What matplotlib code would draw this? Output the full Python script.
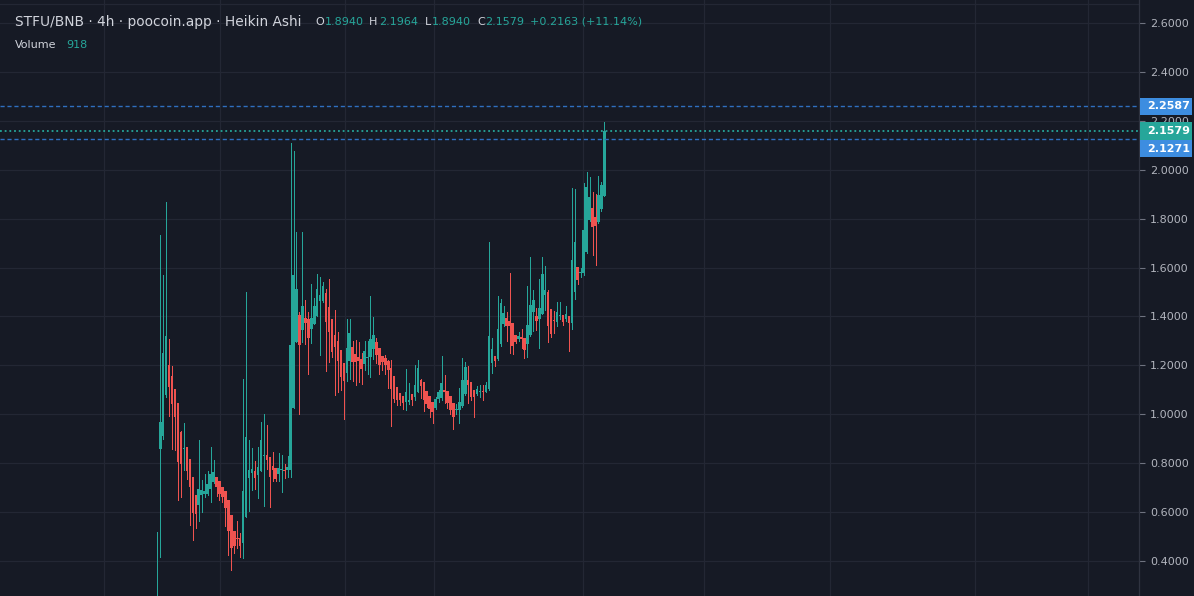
import matplotlib
matplotlib.use("Agg")
import matplotlib.pyplot as plt
import numpy as np
from matplotlib.patches import Rectangle
from matplotlib.transforms import IdentityTransform


# Heikin Ashi candles (4h), oldest first
OPENS = [
    0.150, 0.858, 0.911, 1.079, 1.201, 1.156, 1.103, 1.046, 0.927, 0.858,
    0.866, 0.817, 0.743, 0.670, 0.629, 0.670, 0.674, 0.674, 0.694, 0.723,
    0.743, 0.727, 0.702, 0.686, 0.649, 0.588, 0.522, 0.494, 0.494, 0.473,
    0.580, 0.739, 0.760, 0.768, 0.751, 0.768, 0.829, 0.833, 0.825, 0.788,
    0.780, 0.755, 0.772, 0.772, 0.772, 0.772, 1.025, 1.295, 1.406, 1.344,
    1.393, 1.389, 1.348, 1.369, 1.402, 1.463, 1.463, 1.496, 1.439, 1.389,
    1.324, 1.299, 1.263, 1.209, 1.169, 1.218, 1.275, 1.246, 1.234, 1.226,
    1.205, 1.230, 1.234, 1.267, 1.295, 1.271, 1.238, 1.230, 1.218, 1.189,
    1.156, 1.111, 1.087, 1.074, 1.050, 1.050, 1.083, 1.070, 1.091, 1.140,
    1.132, 1.095, 1.074, 1.050, 1.025, 1.062, 1.066, 1.099, 1.095, 1.074,
    1.046, 1.017, 1.017, 1.034, 1.083, 1.140, 1.132, 1.099, 1.083, 1.091,
    1.095, 1.091, 1.103, 1.209, 1.238, 1.226, 1.287, 1.369, 1.393, 1.381,
    1.373, 1.324, 1.308, 1.316, 1.312, 1.287, 1.324, 1.418, 1.402, 1.389,
    1.410, 1.488, 1.500, 1.430, 1.385, 1.377, 1.402, 1.406, 1.389, 1.402,
    1.373, 1.500, 1.602, 1.578, 1.578, 1.663, 1.794, 1.843, 1.807, 1.786,
    1.839, 1.8940,
]
HIGHS = [
    0.520, 1.733, 1.569, 1.868, 1.308, 1.197, 1.103, 1.046, 0.930, 0.964,
    0.866, 0.817, 0.743, 0.670, 0.894, 0.731, 0.755, 0.768, 0.866, 0.813,
    0.743, 0.727, 0.702, 0.686, 0.649, 0.588, 0.522, 0.563, 0.514, 1.144,
    1.500, 0.894, 0.862, 0.809, 0.866, 0.968, 1.001, 0.956, 0.825, 0.845,
    0.780, 0.841, 0.833, 0.796, 0.829, 2.109, 2.076, 1.745, 1.418, 1.745,
    1.467, 1.418, 1.533, 1.475, 1.573, 1.561, 1.541, 1.512, 1.553, 1.389,
    1.426, 1.336, 1.263, 1.209, 1.389, 1.389, 1.299, 1.303, 1.295, 1.250,
    1.299, 1.299, 1.483, 1.398, 1.310, 1.271, 1.238, 1.242, 1.222, 1.222,
    1.156, 1.111, 1.087, 1.074, 1.185, 1.128, 1.083, 1.201, 1.222, 1.144,
    1.132, 1.095, 1.074, 1.050, 1.070, 1.100, 1.238, 1.160, 1.095, 1.074,
    1.046, 1.042, 1.107, 1.230, 1.213, 1.197, 1.132, 1.099, 1.115, 1.120,
    1.120, 1.132, 1.704, 1.312, 1.238, 1.483, 1.471, 1.443, 1.418, 1.578,
    1.373, 1.324, 1.336, 1.348, 1.312, 1.524, 1.643, 1.508, 1.434, 1.553,
    1.643, 1.606, 1.510, 1.430, 1.422, 1.459, 1.459, 1.406, 1.443, 1.402,
    1.925, 1.921, 1.602, 1.598, 1.946, 1.991, 1.970, 1.909, 1.901, 1.974,
    1.950, 2.1964,
]
LOWS = [
    0.100, 0.416, 0.900, 1.070, 0.993, 0.858, 0.854, 0.649, 0.661, 0.772,
    0.735, 0.547, 0.485, 0.535, 0.563, 0.600, 0.660, 0.670, 0.641, 0.720,
    0.665, 0.649, 0.641, 0.543, 0.424, 0.363, 0.432, 0.453, 0.416, 0.412,
    0.580, 0.604, 0.690, 0.694, 0.657, 0.768, 0.625, 0.776, 0.620, 0.727,
    0.727, 0.727, 0.682, 0.740, 0.743, 0.743, 1.025, 1.295, 1.001, 1.295,
    1.287, 1.164, 1.291, 1.369, 1.400, 1.242, 1.460, 1.177, 1.214, 1.234,
    1.079, 1.091, 1.099, 0.980, 1.136, 1.144, 1.136, 1.119, 1.132, 1.124,
    1.181, 1.164, 1.152, 1.226, 1.209, 1.164, 1.181, 1.164, 1.107, 0.952,
    1.050, 1.038, 1.038, 1.021, 1.017, 1.040, 1.038, 1.060, 1.090, 1.066,
    1.013, 1.030, 0.989, 0.964, 1.020, 1.050, 1.060, 1.046, 1.025, 1.001,
    0.940, 1.000, 0.964, 1.030, 1.080, 1.046, 1.060, 0.989, 1.080, 1.070,
    1.060, 1.090, 1.100, 1.170, 1.197, 1.220, 1.280, 1.360, 1.299, 1.250,
    1.246, 1.290, 1.300, 1.271, 1.230, 1.234, 1.320, 1.340, 1.344, 1.271,
    1.410, 1.426, 1.295, 1.316, 1.332, 1.361, 1.390, 1.365, 1.380, 1.258,
    1.348, 1.471, 1.533, 1.561, 1.570, 1.660, 1.790, 1.651, 1.610, 1.780,
    1.830, 1.8940,
]
CLOSES = [
    0.220, 0.968, 1.250, 1.320, 1.111, 1.042, 0.989, 0.804, 0.796, 0.862,
    0.768, 0.702, 0.596, 0.592, 0.694, 0.690, 0.686, 0.715, 0.755, 0.764,
    0.702, 0.674, 0.661, 0.616, 0.522, 0.453, 0.461, 0.490, 0.461, 0.686,
    0.907, 0.772, 0.776, 0.739, 0.784, 0.894, 0.833, 0.813, 0.743, 0.772,
    0.735, 0.780, 0.776, 0.768, 0.784, 1.283, 1.569, 1.512, 1.283, 1.443,
    1.373, 1.312, 1.393, 1.443, 1.512, 1.488, 1.524, 1.377, 1.336, 1.254,
    1.275, 1.218, 1.152, 1.136, 1.271, 1.332, 1.213, 1.213, 1.218, 1.185,
    1.258, 1.234, 1.308, 1.324, 1.242, 1.201, 1.213, 1.201, 1.181, 1.103,
    1.062, 1.058, 1.058, 1.046, 1.091, 1.058, 1.058, 1.119, 1.189, 1.115,
    1.058, 1.042, 1.021, 1.009, 1.062, 1.091, 1.128, 1.091, 1.046, 1.017,
    0.989, 1.021, 1.050, 1.140, 1.193, 1.120, 1.070, 1.070, 1.103, 1.095,
    1.091, 1.119, 1.320, 1.267, 1.218, 1.348, 1.455, 1.414, 1.361, 1.361,
    1.279, 1.295, 1.320, 1.308, 1.263, 1.365, 1.447, 1.467, 1.381, 1.434,
    1.573, 1.508, 1.361, 1.328, 1.381, 1.418, 1.406, 1.377, 1.410, 1.373,
    1.631, 1.704, 1.549, 1.582, 1.753, 1.929, 1.888, 1.766, 1.770, 1.897,
    1.937, 2.1579,
]

PRICE_TICKS = [0.4, 0.6, 0.8, 1.0, 1.2, 1.4, 1.6, 1.8, 2.0, 2.2, 2.4, 2.6]

# price lines shown on the right scale: (value, kind)
PRICE_LINES = [(2.2587, "alert"), (2.1579, "last"), (2.1271, "alert")]

LEGEND_TITLE = "STFU/BNB · 4h · poocoin.app · Heikin Ashi"
LEGEND_OHLC = [("O", "1.8940"), ("H", "2.1964"), ("L", "1.8940"), ("C", "2.1579")]
LEGEND_CHANGE = "+0.2163 (+11.14%)"
VOLUME_LAST = "918"

BG = "#161a25"
GRID = "#232734"
UP = "#26a69a"
DOWN = "#ef5350"
BLUE = "#3d8de0"
TEXT = "#d1d4dc"
AXIS_TEXT = "#b2b5be"

W, H = 1194, 596
PLOT_RIGHT = 1139  # pixel where the price scale starts


def draw_candles(ax, opens, highs, lows, closes):
    o = np.array(opens)
    h = np.array(highs)
    lo = np.array(lows)
    c = np.array(closes)
    x = np.arange(len(o))
    up = c >= o
    colors = np.where(up, UP, DOWN)
    h = np.maximum(h, np.maximum(o, c))
    lo = np.minimum(lo, np.minimum(o, c))

    ax.vlines(x, lo, h, colors=colors, linewidth=0.72, zorder=3,
              antialiased=False)
    bottoms = np.minimum(o, c)
    heights = np.maximum(np.abs(c - o), 0.004)
    ax.bar(x, heights, bottom=bottoms, width=0.86, color=colors,
           linewidth=0, antialiased=False, zorder=4)


def main():
    fig = plt.figure(figsize=(W / 100, H / 100), dpi=100)
    fig.patch.set_facecolor(BG)
    ax = fig.add_axes([0, 0, PLOT_RIGHT / W, 1])
    ax.set_facecolor(BG)

    step = 2.961  # pixels per candle
    first_px = 157.3
    ax.set_xlim(-first_px / step, (PLOT_RIGHT - first_px) / step)
    ax.set_ylim(2.6 - (H - 23) / 244.5, 2.6 + 23 / 244.5)

    # grid
    for p in PRICE_TICKS:
        ax.axhline(p, color=GRID, linewidth=0.9, zorder=1)
    for gx in [-18.0, 21.2, 63.4, 93.4, 143.8, 184.6, 227.2, 276.2, 314.3]:
        ax.axvline(gx, color=GRID, linewidth=0.9, zorder=1)
    ax.axhline(2.6 + 19 / 244.5, color=GRID, linewidth=0.9, zorder=1)

    draw_candles(ax, OPENS, HIGHS, LOWS, CLOSES)

    # horizontal price lines
    for value, kind in PRICE_LINES:
        if kind == "last":
            ax.axhline(value, color=UP, linewidth=1.3, linestyle=(0, (1, 1.6)), zorder=5)
        else:
            ax.axhline(value, color="#2f6fbf", linewidth=1.0, linestyle=(0, (3, 2)), zorder=5)

    # right price scale
    ax.yaxis.tick_right()
    ax.set_yticks(PRICE_TICKS)
    ax.set_yticklabels([f"{p:.4f}" for p in PRICE_TICKS])
    ax.tick_params(axis="y", colors="#6f7380", labelcolor=AXIS_TEXT,
                   labelsize=8, length=4, width=0.8, pad=4)
    ax.set_xticks([])
    for name in ["top", "bottom", "left"]:
        ax.spines[name].set_visible(False)
    ax.spines["right"].set_color("#2f3340")
    ax.spines["right"].set_linewidth(0.9)

    # price label boxes on the scale
    box_h = 17.5
    prev_bottom = None
    for value, kind in PRICE_LINES:
        yc = ax.transData.transform((0, value))[1]
        if prev_bottom is not None and yc + box_h / 2 > prev_bottom:
            yc = prev_bottom - box_h / 2
        prev_bottom = yc - box_h / 2
        fc = UP if kind == "last" else BLUE
        fig.add_artist(Rectangle((PLOT_RIGHT + 1, yc - box_h / 2), 52, box_h,
                                 transform=IdentityTransform(), facecolor=fc,
                                 edgecolor="none", zorder=10))
        fig.text(PLOT_RIGHT + 8, yc, f"{value:.4f}", transform=IdentityTransform(),
                 color="white", fontsize=8, fontweight="bold",
                 ha="left", va="center", zorder=11)

    # legend text at top left
    def px_text(x, y, s, color, size):
        fig.text(x, H - y, s, transform=IdentityTransform(), color=color,
                 fontsize=size, ha="left", va="center")

    px_text(15, 22, LEGEND_TITLE, TEXT, 9.9)
    xs = [(315, 325), (369, 379), (425, 432), (477, 485)]
    for (lx, vx), (letter, val) in zip(xs, LEGEND_OHLC):
        px_text(lx, 22, letter, TEXT, 8)
        px_text(vx, 22, val, UP, 8)
    px_text(530, 22, LEGEND_CHANGE, UP, 8)
    px_text(15, 45, "Volume", TEXT, 8)
    px_text(66, 45, VOLUME_LAST, UP, 8)

    fig.savefig("out.png", dpi=100, facecolor=BG)
    plt.close(fig)


if __name__ == "__main__":
    main()
